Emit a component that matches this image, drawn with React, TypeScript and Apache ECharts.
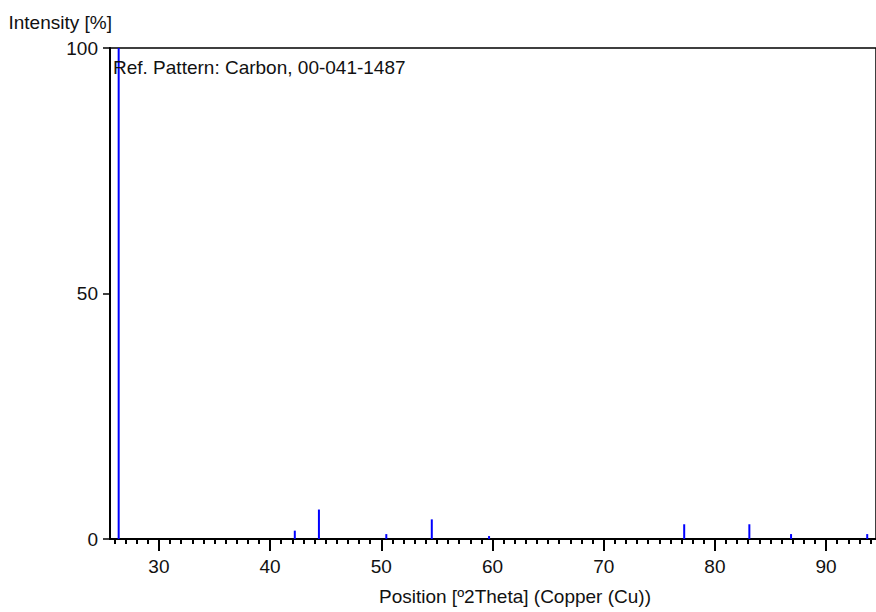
import React, { useEffect, useRef } from "react";
import * as echarts from "echarts";

const peakPositions = [26.38, 42.22, 44.39, 50.45, 54.54, 59.69, 77.24, 83.1, 86.85, 93.7];
const peakIntensities = [100, 1.7, 6, 1, 4, 0.6, 3, 3, 1, 1];
const xMajorTicks = [30, 40, 50, 60, 70, 80, 90];
const xMinorTicks = [26, 27, 28, 29, 31, 32, 33, 34, 35, 36, 37, 38, 39, 41, 42, 43, 44, 45, 46, 47, 48, 49,
  51, 52, 53, 54, 55, 56, 57, 58, 59, 61, 62, 63, 64, 65, 66, 67, 68, 69, 71, 72, 73, 74, 75, 76, 77, 78, 79,
  81, 82, 83, 84, 85, 86, 87, 88, 89, 91, 92, 93, 94];
const yTicks = [0, 50, 100];
const patternLabel = "Ref. Pattern: Carbon, 00-041-1487";
const xTitle = "Position [º2Theta] (Copper (Cu))";
const yTitle = "Intensity [%]";

const FONT = "'Liberation Sans Narrow', 'Arial Narrow', 'Liberation Sans', sans-serif";
const X_MIN = 25.6;
const X_MAX = 94.49;

export default function App() {
  const ref = useRef<HTMLDivElement>(null);
  useEffect(() => {
    if (!ref.current) return;
    const chart = echarts.init(ref.current, null, { renderer: "svg" });
    const data = peakPositions.map((p, i) => [p, peakIntensities[i]]);
    chart.setOption({
      animation: false,
      backgroundColor: "#fff",
      title: {
        text: patternLabel,
        left: 108,
        top: 53,
        textStyle: { fontFamily: FONT, fontSize: 19, fontWeight: "normal", color: "#111" },
      },
      grid: {
        left: 110,
        right: -1,
        top: 48,
        bottom: 73,
        show: true,
        borderColor: "#000",
        borderWidth: 1.5,
        backgroundColor: "transparent",
      },
      xAxis: [
        {
          type: "value",
          min: X_MIN,
          max: X_MAX,
          name: xTitle,
          nameLocation: "middle",
          nameGap: 48,
          nameTextStyle: { fontFamily: FONT, fontSize: 19, color: "#111", padding: [0, 0, 0, 44] },
          axisLine: { show: true, lineStyle: { color: "#000", width: 2 } },
          axisTick: { show: true, customValues: xMajorTicks, length: 12, lineStyle: { color: "#000", width: 2 } },
          axisLabel: { customValues: xMajorTicks, fontFamily: FONT, fontSize: 19, color: "#111", margin: 18 },
          splitLine: { show: false },
        },
        {
          type: "value",
          min: X_MIN,
          max: X_MAX,
          position: "bottom",
          gridIndex: 0,
          axisLine: { show: false },
          axisTick: { show: true, customValues: xMinorTicks, length: 5, lineStyle: { color: "#000", width: 2 } },
          axisLabel: { show: false },
          splitLine: { show: false },
        },
      ],
      yAxis: {
        type: "value",
        min: 0,
        max: 100,
        name: yTitle,
        nameLocation: "end",
        nameGap: 26,
        nameTextStyle: { fontFamily: FONT, fontSize: 19, color: "#111", align: "right", verticalAlign: "middle", padding: [0, -2, 0, 0] },
        axisLine: { show: true, lineStyle: { color: "#000", width: 2 } },
        axisTick: { show: true, customValues: yTicks, length: 7, lineStyle: { color: "#000", width: 1.5 } },
        axisLabel: { customValues: yTicks, fontFamily: FONT, fontSize: 19, color: "#111", margin: 12 },
        splitLine: { show: false },
      },
      series: [
        {
          type: "bar",
          xAxisIndex: 0,
          data,
          barWidth: 2,
          itemStyle: { color: "#0000ff" },
        },
      ],
    });
    return () => chart.dispose();
  }, []);
  return <div ref={ref} style={{ position: "fixed", left: 0, top: 0, width: 876, height: 612 }} />;
}
